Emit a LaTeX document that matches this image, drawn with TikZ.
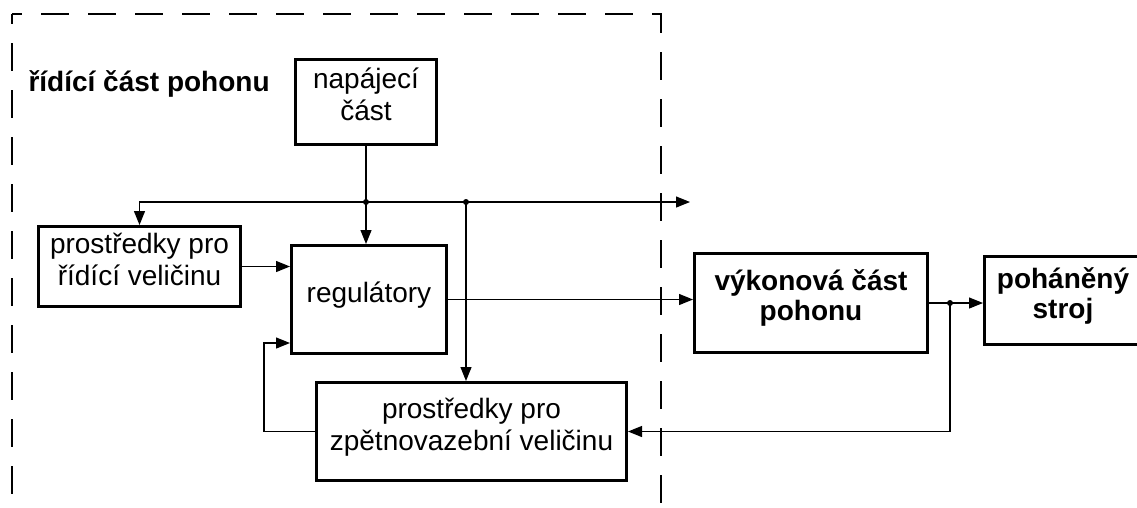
\documentclass[tikz,border=0pt]{standalone}
\usepackage{fontspec}
\setmainfont{Liberation Sans}
\usetikzlibrary{arrows.meta}
\tikzset{
  box/.style={draw, line width=3pt, inner sep=0pt, align=center,
    font=\fontsize{28}{32}\selectfont,
    execute at end node={\rule[-15pt]{0pt}{15pt}}},
  boldbox/.style={box, font=\fontsize{28}{30}\selectfont\bfseries},
  arr/.style={line width=1.2pt, -{Triangle[length=14pt,width=11pt]}},
  ramec/.style={line width=1.2pt, dash pattern=on 28pt off 19pt, dash phase=18pt}
}
\begin{document}
\begin{tikzpicture}[x=1pt,y=-1pt]
\clip (0,0) rectangle (1137,507);
% ramec ridici casti
\draw[ramec] (12,14) -- (12,507);
\draw[ramec] (12,14) -- (661,14) -- (661,507);
\node[anchor=base west, font=\fontsize{28}{32}\selectfont\bfseries] (titulek) at (25,91) {řídící část pohonu};
% bloky
\node[box, minimum width=141pt, minimum height=85pt] (napajeci) at (366,102) {napájecí\\část};
\node[box, minimum width=202pt, minimum height=80pt] (ridici) at (139.5,266.5) {prostředky pro\\řídící veličinu};
\node[box, minimum width=155pt, minimum height=108pt] (reg) at (369,299.5) {regulátory};
\node[box, minimum width=310pt, minimum height=98pt] (zpetna) at (471.5,431.5) {prostředky pro\\zpětnovazební veličinu};
\node[boldbox, minimum width=233pt, minimum height=99pt] (vykonova) at (811,303) {výkonová část\\pohonu};
\node[boldbox, minimum width=157pt, minimum height=88pt] (stroj) at (1063,300.5) {poháněný\\stroj};
% pomocne body
\coordinate (sbernice) at (0,202);
\coordinate (vystup) at (690,202);
\coordinate (j1) at (napajeci.south |- sbernice);
\coordinate (j2) at (466,202);
\coordinate (odbocka) at (950,0);
\coordinate (j3) at (odbocka |- vykonova.east);
\coordinate (zpet) at (264,343);
% spoje
\draw[arr] (napajeci.south) -- (napajeci.south |- reg.north);
\draw[arr] (j1) -| (ridici.north);
\draw[arr] (j1) -- (vystup);
\draw[arr] (j2) -- (j2 |- zpetna.north);
\draw[arr] (ridici.east) -- (ridici.east -| reg.west);
\draw[arr] (reg.east) -- (reg.east -| vykonova.west);
\draw[arr] (vykonova.east) -- (vykonova.east -| stroj.west);
\draw[arr] (j3) |- (zpetna.east);
\draw[arr] (zpetna.west) -| (zpet) -- (zpet -| reg.west);
\fill (j1) circle[radius=3pt];
\fill (j2) circle[radius=3pt];
\fill (j3) circle[radius=3pt];
\end{tikzpicture}
\end{document}
